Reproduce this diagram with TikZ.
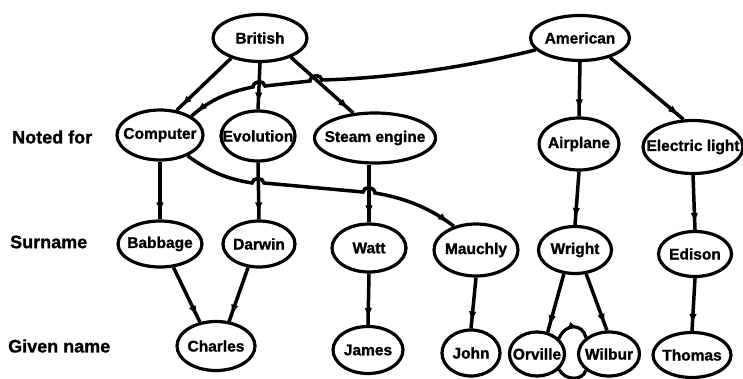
\documentclass[tikz,border=0pt]{standalone}
\usepackage{fontspec}
\setmainfont{Liberation Sans}
\newfontfamily\heavysans[FakeBold=1.2]{Liberation Sans Bold}
\usetikzlibrary{shapes.geometric,arrows.meta,decorations.markings}

% zero-width box so the ellipse size comes only from minimum width/height
\newcommand{\nodetext}[1]{\makebox[0pt]{#1}}

\tikzset{
  bub/.style={ellipse, draw, line width=3.2pt, inner sep=0pt,
    font=\heavysans\fontsize{15.5}{18}\selectfont},
  rowlabel/.style={anchor=west, inner sep=0pt,
    font=\heavysans\fontsize{18}{21}\selectfont},
  link/.style={line width=3.5pt, postaction={decorate},
    decoration={markings,
      mark=at position -6pt with {\arrow{Latex[length=11pt,width=7.5pt]}}}},
  twinlink/.style={line width=3.2pt, postaction={decorate},
    decoration={markings,
      mark=at position 0.62 with {\arrow{Latex[length=8pt,width=6.5pt]}}}},
}

\begin{document}
\begin{tikzpicture}[x=1pt,y=-1pt]
\useasboundingbox (0,0) rectangle (743,379);

% row labels
\node[rowlabel] (lnoted) at (12,137) {Noted for};
\node[rowlabel] (lsur)   at (10,242) {Surname};
\node[rowlabel] (lgiven) at (8,346)  {Given name};

% nationality
\node[bub, minimum width=94pt, minimum height=47pt] (brit) at (260,38) {\nodetext{British}};
\node[bub, minimum width=99pt, minimum height=45pt] (am)   at (580,38) {\nodetext{American}};

% noted for
\node[bub, minimum width=86pt,  minimum height=50pt] (comp)  at (160,135) {\nodetext{Computer}};
\node[bub, minimum width=74pt,  minimum height=50pt] (evol)  at (258,136) {\nodetext{Evolution}};
\node[bub, minimum width=121pt, minimum height=50pt] (steam) at (375,138) {\nodetext{Steam engine}};
\node[bub, minimum width=80pt,  minimum height=52pt] (air)   at (579,144) {\nodetext{Airplane}};
\node[bub, minimum width=100pt, minimum height=53pt] (elec)  at (693,147) {\nodetext{Electric light}};

% surnames
\node[bub, minimum width=84pt, minimum height=46pt] (bab)  at (160,244) {\nodetext{Babbage}};
\node[bub, minimum width=72pt, minimum height=46pt] (dar)  at (259,244) {\nodetext{Darwin}};
\node[bub, minimum width=74pt, minimum height=48pt] (watt) at (369,248) {\nodetext{Watt}};
\node[bub, minimum width=84pt, minimum height=52pt] (mau)  at (476,250) {\nodetext{Mauchly}};
\node[bub, minimum width=73pt, minimum height=47pt] (wri)  at (575,250) {\nodetext{Wright}};
\node[bub, minimum width=73pt, minimum height=45pt] (edi)  at (695,254) {\nodetext{Edison}};

% given names
\node[bub, minimum width=78pt, minimum height=49pt] (cha) at (216,346) {\nodetext{Charles}};
\node[bub, minimum width=70pt, minimum height=47pt] (jam) at (368,350) {\nodetext{James}};
\node[bub, minimum width=58pt, minimum height=46pt] (joh) at (471,353) {\nodetext{John}};
\node[bub, minimum width=55pt, minimum height=44pt] (orv) at (537,354) {\nodetext{Orville}};
\node[bub, minimum width=61pt, minimum height=44pt] (wil) at (609,354) {\nodetext{Wilbur}};
\node[bub, minimum width=78pt, minimum height=45pt] (tho) at (692,355) {\nodetext{Thomas}};

% nationality -> invention
\draw[link] (brit.215) -- (comp.56);
\draw[link] (brit.south) -- (evol.north);
\draw[link] (brit.-32) -- (steam.131);
\draw[link] (am.south) -- (air.north);
\draw[link] (am.-33) -- (elec.109);
\draw[link] (am.195) .. controls (480,64) and (400,78) .. (322,80)
  .. controls (321,74) and (311,74) .. (310,81) -- (265,86)
  .. controls (264,80) and (254,80) .. (253,87)
  .. controls (228,92) and (210,100) .. (comp.31);

% invention -> surname
\draw[link] (comp.south) -- (bab.north);
\draw[link] (evol.south) -- (dar.north);
\draw[link] (watt.north |- steam.south) -- (watt.north);
\draw[link] (air.south) -- (wri.north);
\draw[link] (elec.south) -- (edi.north);
\draw[link] (comp.-37) .. controls (215,176) and (235,180) .. (252,183)
  .. controls (253,177) and (263,177) .. (264,183) -- (363,192)
  .. controls (364,186) and (374,186) .. (375,193)
  .. controls (405,198) and (430,208) .. (mau.133);

% surname -> given name
\draw[link] (bab.-60) -- (cha.124);
\draw[link] (dar.-115) -- (cha.62);
\draw[link] (watt.south) -- (jam.north);
\draw[link] (mau.south) -- (joh.north);
\draw[link] (wri.245) -- (orv.64);
\draw[link] (wri.-65) -- (wil.95);
\draw[link] (edi.south) -- (tho.north);

% brothers
\draw[twinlink] (orv.35) .. controls (565,323) and (583,323) .. (wil.145);
\draw[twinlink] (wil.215) .. controls (583,381) and (565,381) .. (orv.-35);
\end{tikzpicture}
\end{document}
